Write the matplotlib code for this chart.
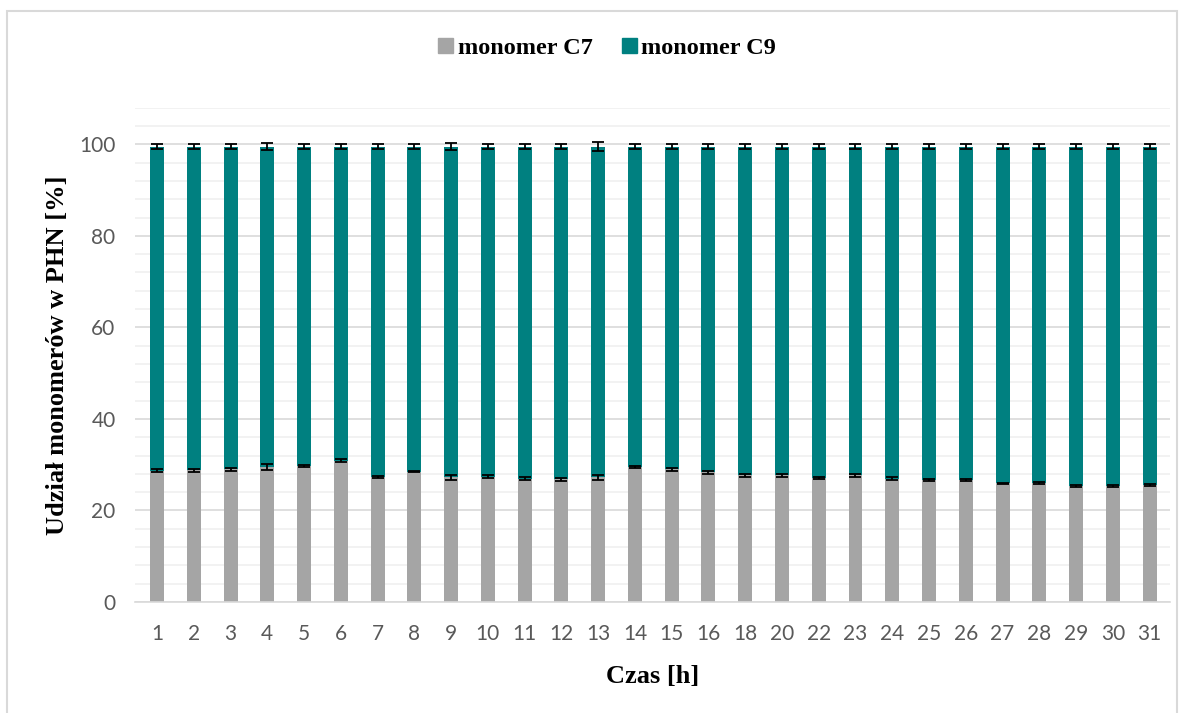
import matplotlib.pyplot as plt
import numpy as np
from matplotlib.patches import Patch, Rectangle
from matplotlib.ticker import MultipleLocator

hours = ["1", "2", "3", "4", "5", "6", "7", "8", "9", "10", "11", "12", "13", "14",
         "15", "16", "18", "20", "22", "23", "24", "25", "26", "27", "28", "29", "30", "31"]
c7 = [28.7, 28.8, 29.0, 29.5, 29.7, 30.9, 27.3, 28.5, 27.2, 27.4, 26.9, 26.8, 27.2, 29.5,
      29.0, 28.3, 27.7, 27.7, 27.1, 27.7, 26.9, 26.7, 26.6, 25.9, 26.0, 25.4, 25.3, 25.5]
c9 = [70.8, 70.7, 70.5, 70.0, 69.8, 68.6, 72.2, 71.0, 72.3, 72.1, 72.6, 72.7, 72.3, 70.0,
      70.5, 71.2, 71.8, 71.8, 72.4, 71.8, 72.6, 72.8, 72.9, 73.6, 73.5, 74.1, 74.2, 74.0]
c7_err = [0.3, 0.3, 0.3, 0.7, 0.3, 0.3, 0.3, 0.2, 0.5, 0.3, 0.3, 0.3, 0.6, 0.3,
          0.3, 0.3, 0.3, 0.3, 0.2, 0.3, 0.3, 0.2, 0.2, 0.2, 0.2, 0.2, 0.2, 0.2]
c9_err = [0.5, 0.5, 0.5, 0.8, 0.5, 0.5, 0.5, 0.6, 0.7, 0.6, 0.6, 0.5, 0.9, 0.5,
          0.5, 0.5, 0.5, 0.5, 0.5, 0.5, 0.5, 0.5, 0.5, 0.5, 0.5, 0.5, 0.5, 0.5]

grey = "#a5a5a5"
teal = "#008080"
serif = ["Liberation Serif", "DejaVu Serif"]

fig = plt.figure(figsize=(11.84, 7.13), dpi=100)
ax = fig.add_axes([0.114, 0.1557, 0.874, 0.6933])

x = np.arange(len(hours))
c7 = np.array(c7)
c9 = np.array(c9)
width = 0.38

ax.bar(x, c7, width, color=grey, zorder=2)
ax.bar(x, c9, width, bottom=c7, color=teal, zorder=2)
ax.errorbar(x, c7, yerr=c7_err, fmt="none", ecolor="black", elinewidth=1.3,
            capsize=4.3, capthick=1.3, zorder=3)
ax.errorbar(x, c7 + c9, yerr=c9_err, fmt="none", ecolor="black", elinewidth=1.3,
            capsize=4.3, capthick=1.3, zorder=3)

ax.set_xlim(-0.6, len(hours) - 0.45)
ax.set_ylim(0, 108)
ax.set_xticks(x)
ax.set_xticklabels(hours)
ax.set_yticks(np.arange(0, 101, 20))
ax.yaxis.set_minor_locator(MultipleLocator(4))
ax.grid(which="major", axis="y", color="#d9d9d9", linewidth=1.2, zorder=0)
ax.grid(which="minor", axis="y", color="#f0f0f0", linewidth=1.2, zorder=0)
ax.tick_params(which="both", length=0, labelsize=15, labelcolor="#595959")
ax.tick_params(axis="y", pad=14)
ax.tick_params(axis="x", pad=16)
for lab in ax.get_xticklabels() + ax.get_yticklabels():
    lab.set_family(["Lato", "DejaVu Sans"])
for side in ["top", "right", "left"]:
    ax.spines[side].set_visible(False)
ax.spines["bottom"].set_color("#d9d9d9")
ax.spines["bottom"].set_linewidth(1.2)

ax.set_xlabel("Czas [h]", family=serif, fontweight="bold", fontsize=19, labelpad=15)
ax.set_ylabel("Udział monomerów w PHN [%]", family=serif, fontweight="bold",
              fontsize=19, labelpad=7)

handles = [Patch(color=grey, label="monomer C7"), Patch(color=teal, label="monomer C9")]
fig.legend(handles=handles, loc="center", bbox_to_anchor=(0.513, 0.932), ncol=2,
           frameon=False, prop={"family": serif, "weight": "bold", "size": 17.5},
           handlelength=0.6, handleheight=0.6, handletextpad=0.2, columnspacing=1.2)

fig.patches.append(Rectangle((0.006, -0.01), 0.988, 0.995, transform=fig.transFigure,
                             fill=False, edgecolor="#d9d9d9", linewidth=1.5))

fig.savefig("out.png", dpi=100)
